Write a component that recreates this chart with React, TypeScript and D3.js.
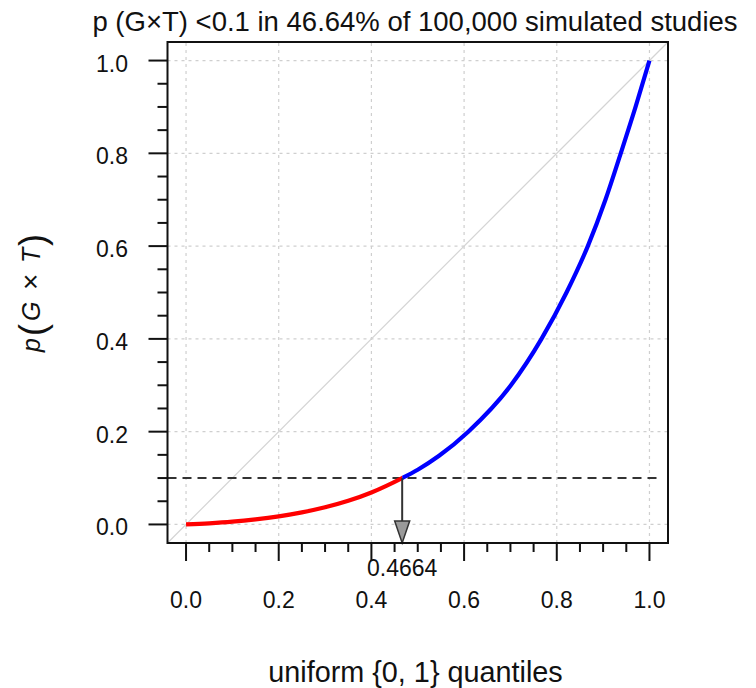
import * as d3 from "d3";

// uniform quantiles vs. sorted simulated p-values
const quantiles = [
  0, 0.05, 0.1, 0.15, 0.2, 0.25, 0.3, 0.35, 0.4, 0.4664, 0.5, 0.546, 0.609,
  0.701, 0.767, 0.821, 0.867, 0.905, 0.938, 0.97, 1.0,
];
const pValues = [
  0, 0.0025, 0.006, 0.011, 0.0175, 0.026, 0.037, 0.051, 0.069, 0.1, 0.118,
  0.148, 0.2, 0.3, 0.4, 0.5, 0.6, 0.7, 0.8, 0.9, 1.0,
];

const threshold = 0.1;
const cutoffQuantile = 0.4664;
const majorTicks = [0, 0.2, 0.4, 0.6, 0.8, 1.0];

const title = "p (G\u00d7T) <0.1 in 46.64% of 100,000 simulated studies";
const xTitle = "uniform {0, 1} quantiles";

const W = 756;
const H = 688;
const FONT = "'Liberation Sans', Arial, sans-serif";
const INK = "#111";

export default function App() {
  const x = d3.scaleLinear().domain([-0.04, 1.04]).range([167.5, 668]);
  const y = d3.scaleLinear().domain([-0.04, 1.04]).range([543, 42]);
  const minorTicks = x.ticks(20).filter((t) => !majorTicks.some((m) => Math.abs(m - t) < 1e-9));
  const fmt = d3.format(".1f");

  const pts = quantiles.map((q, i) => ({ q, p: pValues[i] }));
  const line = d3
    .line<{ q: number; p: number }>()
    .x((d) => x(d.q))
    .y((d) => y(d.p))
    .curve(d3.curveMonotoneX);
  // draw the whole curve once, then split it by colour with clip paths
  const fullPath = line(pts) ?? "";

  const [x0, x1] = x.range();
  const [yB, yT] = y.range();
  const ax = x(cutoffQuantile);
  const headTop = 521;

  return (
    <svg
      width={W}
      height={H}
      style={{ position: "absolute", left: 0, top: 0, background: "#fff" }}
      fontFamily={FONT}
    >
      <defs>
        <clipPath id="clip-low">
          <rect x={0} y={0} width={ax} height={H} />
        </clipPath>
        <clipPath id="clip-high">
          <rect x={ax} y={0} width={W - ax} height={H} />
        </clipPath>
      </defs>

      <text x={415} y={30.5} fontSize={27.5} textAnchor="middle" fill={INK}>
        {title}
      </text>

      {/* grid */}
      <g stroke="#cfcfcf" strokeWidth={1.2} strokeDasharray="3,4">
        {majorTicks.map((t) => (
          <line key={"gx" + t} x1={x(t)} x2={x(t)} y1={yB} y2={yT} />
        ))}
        {majorTicks.map((t) => (
          <line key={"gy" + t} x1={x0} x2={x1} y1={y(t)} y2={y(t)} />
        ))}
      </g>

      {/* identity line */}
      <line x1={x0} y1={yB} x2={x1} y2={yT} stroke="#d4d4d4" strokeWidth={1.2} />

      {/* threshold */}
      <line
        x1={x0}
        x2={x1 - 7}
        y1={y(threshold)}
        y2={y(threshold)}
        stroke="#333"
        strokeWidth={2}
        strokeDasharray="9,6"
      />

      <path d={fullPath} clipPath="url(#clip-low)" fill="none" stroke="#ff0000" strokeWidth={4.2} />
      <path d={fullPath} clipPath="url(#clip-high)" fill="none" stroke="#0000ff" strokeWidth={4.2} />

      {/* arrow to cutoff quantile */}
      <line x1={ax} x2={ax} y1={y(threshold)} y2={headTop} stroke="#333" strokeWidth={2} />
      <polygon
        points={`${ax - 7.5},${headTop} ${ax + 7.5},${headTop} ${ax},${yB}`}
        fill="#9a9a9a"
        stroke="#333"
        strokeWidth={1.5}
      />
      <text x={ax} y={576} fontSize={23} textAnchor="middle" fill={INK}>
        {String(cutoffQuantile)}
      </text>

      {/* box */}
      <rect x={x0} y={yT} width={x1 - x0} height={yB - yT} fill="none" stroke={INK} strokeWidth={2} />

      {/* axes ticks */}
      <g stroke={INK} strokeWidth={2}>
        {majorTicks.map((t) => (
          <line key={"xt" + t} x1={x(t)} x2={x(t)} y1={yB} y2={yB + 18} />
        ))}
        {minorTicks.map((t) => (
          <line key={"xm" + t} x1={x(t)} x2={x(t)} y1={yB} y2={yB + 9} />
        ))}
        {majorTicks.map((t) => (
          <line key={"yt" + t} x1={x0} x2={x0 - 19} y1={y(t)} y2={y(t)} />
        ))}
        {minorTicks.map((t) => (
          <line key={"ym" + t} x1={x0} x2={x0 - 10} y1={y(t)} y2={y(t)} />
        ))}
      </g>
      {majorTicks.map((t) => (
        <text key={"xl" + t} x={x(t)} y={608} fontSize={23} textAnchor="middle" fill={INK}>
          {fmt(t)}
        </text>
      ))}
      {majorTicks.map((t) => (
        <text key={"yl" + t} x={128} y={y(t) + 11} fontSize={23} textAnchor="end" fill={INK}>
          {fmt(t)}
        </text>
      ))}

      <text x={415.5} y={682} fontSize={28.8} textAnchor="middle" fill={INK}>
        {xTitle}
      </text>

      {/* y title: p(G × T) */}
      <g transform="translate(40,352) rotate(-90)" fill={INK}>
        <text x={0} y={0} fontSize={25} fontStyle="italic">p</text>
        <text x={16} y={5} fontSize={36}>(</text>
        <text x={31} y={0} fontSize={25} fontStyle="italic">G</text>
        <text x={62} y={0} fontSize={28}>{"\u00d7"}</text>
        <text x={89} y={0} fontSize={25} fontStyle="italic">T</text>
        <text x={106} y={5} fontSize={36}>)</text>
      </g>
    </svg>
  );
}
